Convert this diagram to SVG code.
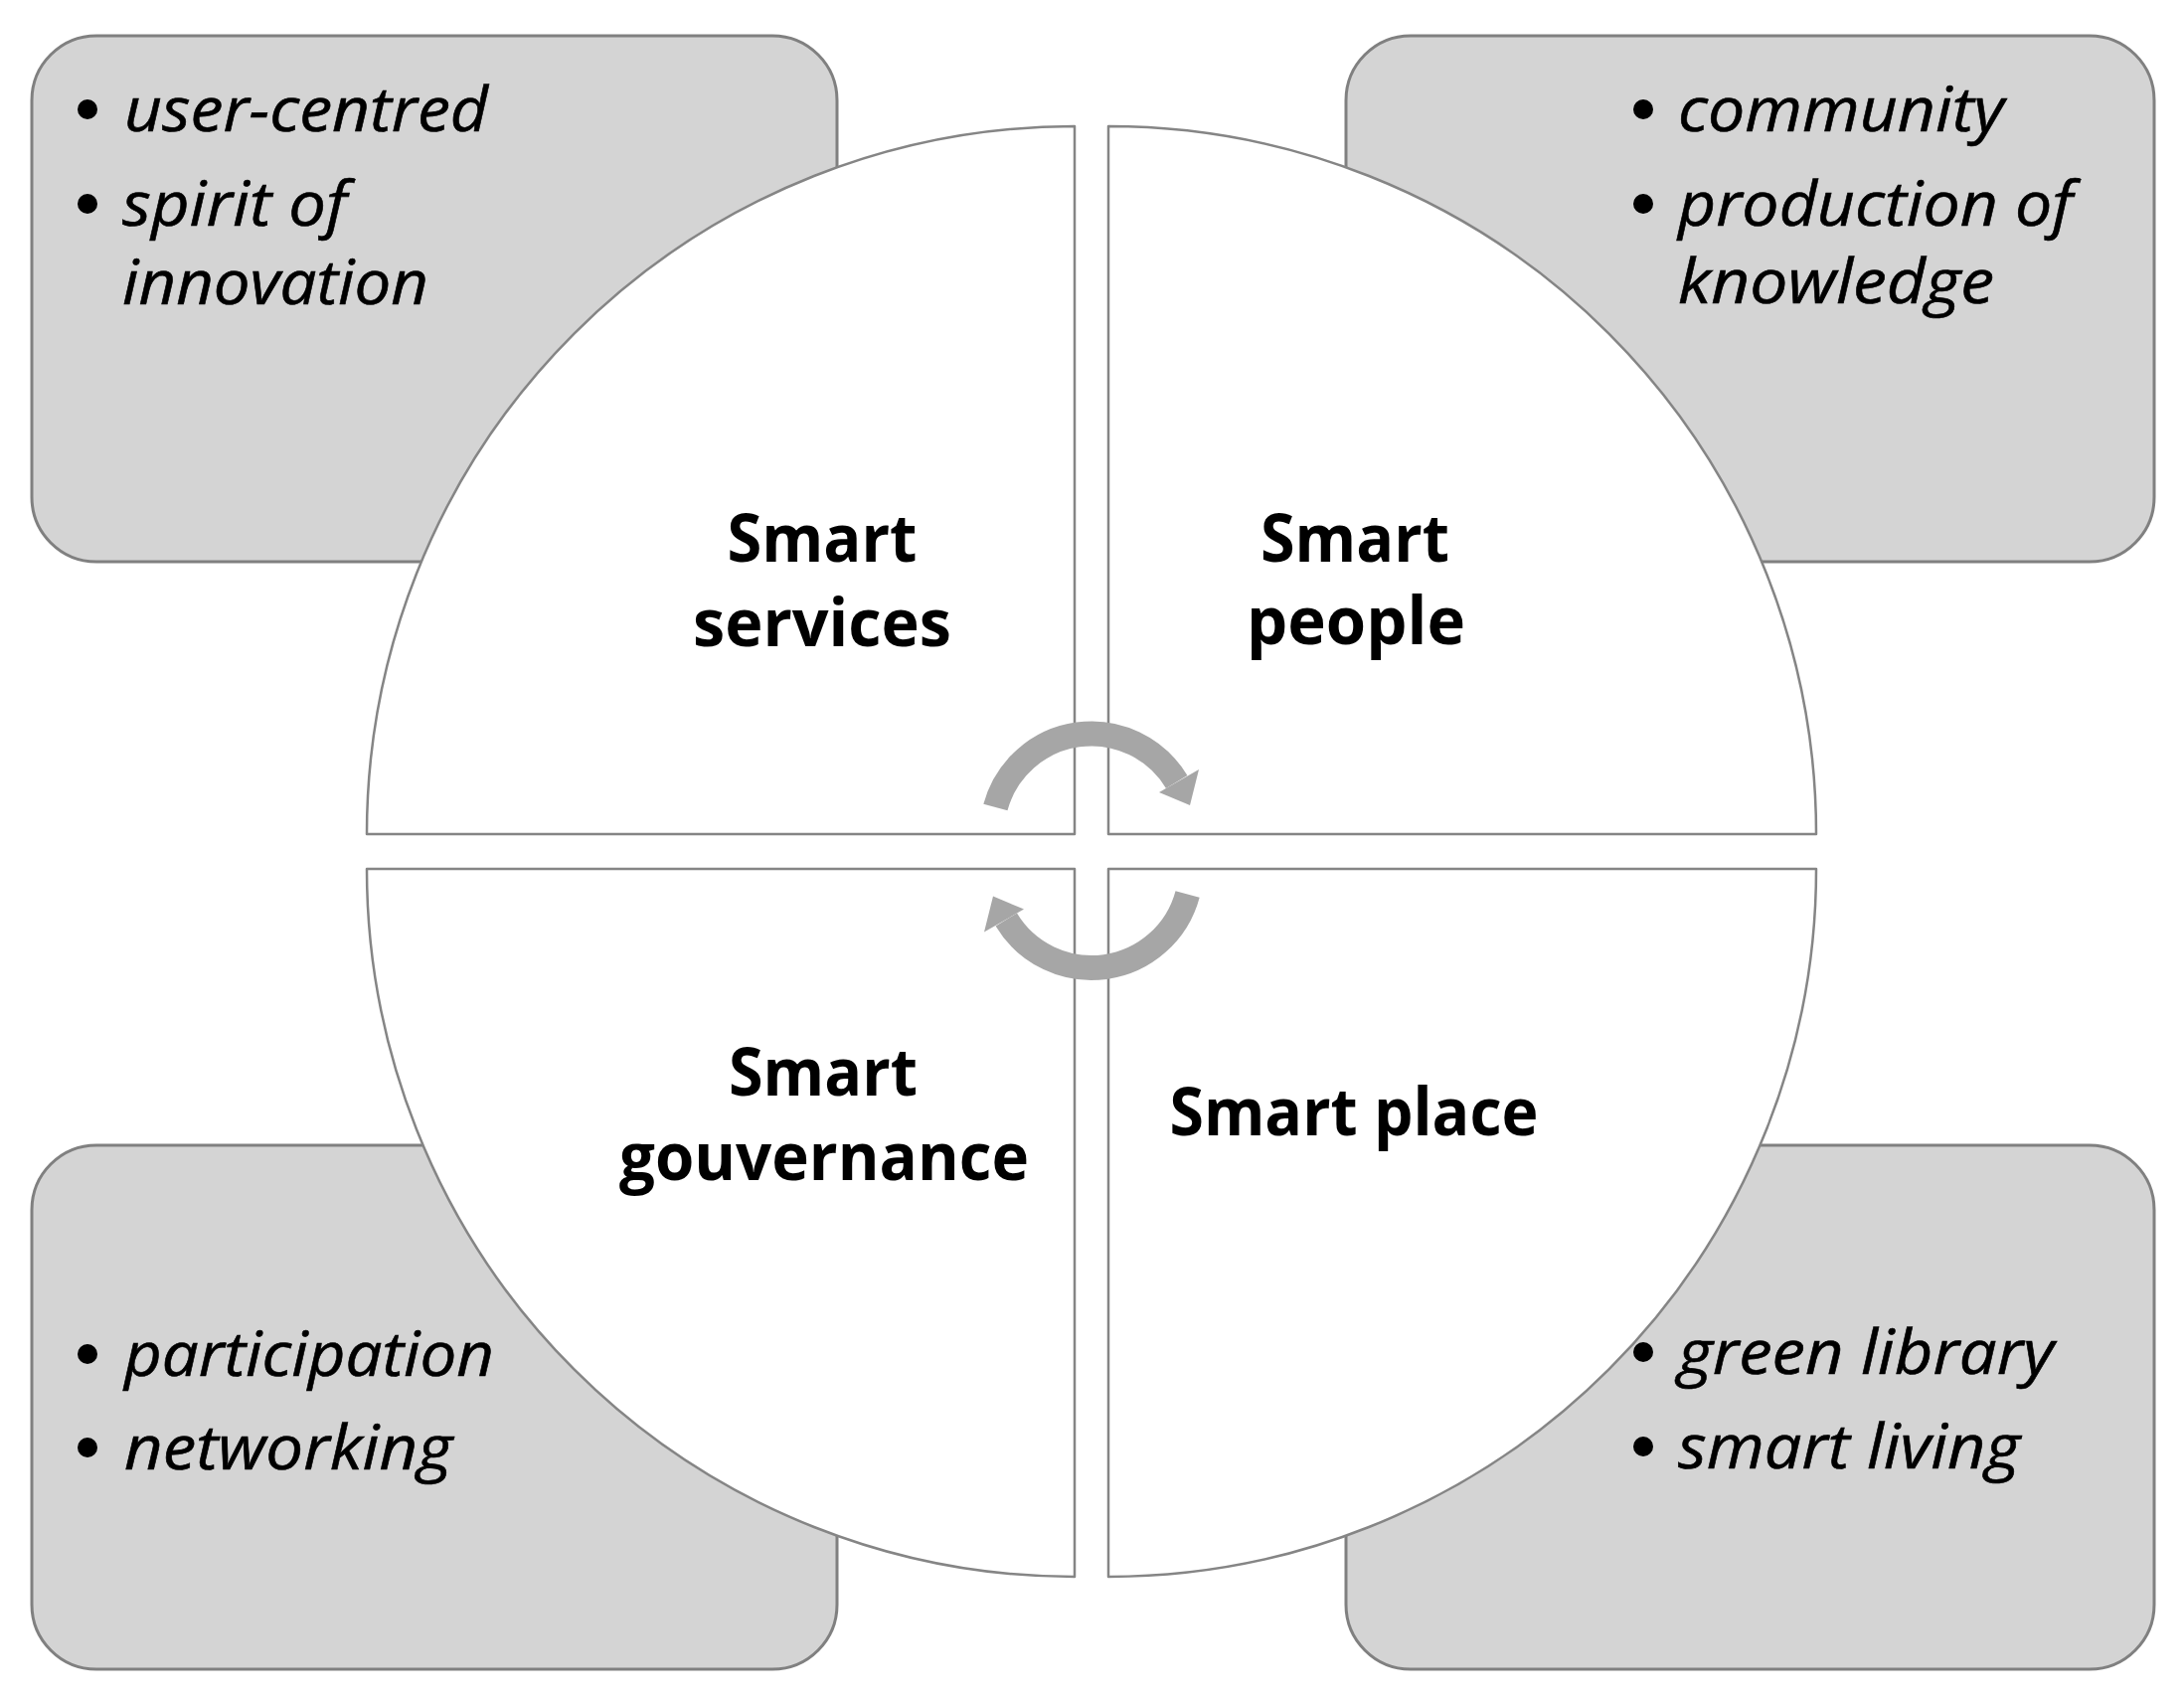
<svg xmlns="http://www.w3.org/2000/svg" width="2197" height="1713" viewBox="0 0 2197 1713">
<defs>
<style>
.box{fill:#d4d4d4;stroke:#808080;stroke-width:3}
.quad{fill:#ffffff;stroke:#858585;stroke-width:2.5;stroke-linejoin:round}
.title{font-family:"Open Sans","Liberation Sans",sans-serif;font-weight:bold;font-size:66px;fill:#000;text-anchor:middle}
.item{font-family:"Open Sans","Liberation Sans",sans-serif;font-style:italic;font-size:62px;fill:#000;stroke:#000;stroke-width:0.6}
.bul{fill:#000}
.arc{fill:none;stroke:#a6a6a6;stroke-width:25}
.head{fill:#a6a6a6}
</style>
</defs>
<rect width="2197" height="1713" fill="#ffffff"/>

<g id="box-tl">
<rect class="box" x="32" y="36" width="810" height="529" rx="65" ry="65"/>
</g>
<g id="box-tr">
<rect class="box" x="1354" y="36" width="813" height="529" rx="65" ry="65"/>
</g>
<g id="box-bl">
<rect class="box" x="32" y="1152" width="810" height="527" rx="65" ry="65"/>
</g>
<g id="box-br">
<rect class="box" x="1354" y="1152" width="813" height="527" rx="65" ry="65"/>
</g>

<g id="smart-services">
<path class="quad" d="M1081,839 L369,839 A712,712 0 0 1 1081,127 Z"/>
<text class="title" x="827" y="565" textLength="191" lengthAdjust="spacingAndGlyphs">Smart</text>
<text class="title" x="827" y="650" textLength="260" lengthAdjust="spacingAndGlyphs">services</text>
</g>
<g id="smart-people">
<path class="quad" d="M1115,839 L1115,127 A712,712 0 0 1 1827,839 Z"/>
<text class="title" x="1363" y="565" textLength="190" lengthAdjust="spacingAndGlyphs">Smart</text>
<text class="title" x="1364" y="648" textLength="220" lengthAdjust="spacingAndGlyphs">people</text>
</g>
<g id="smart-gouvernance">
<path class="quad" d="M1081,874 L1081,1586 A712,712 0 0 1 369,874 Z"/>
<text class="title" x="828" y="1102" textLength="190" lengthAdjust="spacingAndGlyphs">Smart</text>
<text class="title" x="829" y="1187" textLength="412" lengthAdjust="spacingAndGlyphs">gouvernance</text>
</g>
<g id="smart-place">
<path class="quad" d="M1115,874 L1827,874 A712,712 0 0 1 1115,1586 Z"/>
<text class="title" x="1362" y="1142" textLength="371" lengthAdjust="spacingAndGlyphs">Smart place</text>
</g>

<g id="connectors">
<g id="cycle-top">
<path class="arc" d="M1001.4,812.1 A100,100 0 0 1 1183.7,786.5"/>
<polygon class="head" points="1166,797 1206,774 1197,810"/>
</g>
<g id="cycle-bottom" transform="rotate(180 1098 855.75)">
<path class="arc" d="M1001.4,812.1 A100,100 0 0 1 1183.7,786.5"/>
<polygon class="head" points="1166,797 1206,774 1197,810"/>
</g>
</g>

<g id="list-tl">
<circle class="bul" cx="88" cy="110" r="10"/>
<text class="item" x="125" y="132" textLength="366" lengthAdjust="spacingAndGlyphs">user-centred</text>
<circle class="bul" cx="88" cy="205" r="10"/>
<text class="item" x="123" y="227" textLength="226" lengthAdjust="spacingAndGlyphs">spirit of</text>
<text class="item" x="123" y="306" textLength="308" lengthAdjust="spacingAndGlyphs">innovation</text>
</g>
<g id="list-tr">
<circle class="bul" cx="1653" cy="110" r="10"/>
<text class="item" x="1688" y="132" textLength="328" lengthAdjust="spacingAndGlyphs">community</text>
<circle class="bul" cx="1653" cy="205" r="10"/>
<text class="item" x="1688" y="227" textLength="397" lengthAdjust="spacingAndGlyphs">production of</text>
<text class="item" x="1688" y="305" textLength="318" lengthAdjust="spacingAndGlyphs">knowledge</text>
</g>
<g id="list-bl">
<circle class="bul" cx="88" cy="1362" r="10"/>
<text class="item" x="125" y="1384" textLength="372" lengthAdjust="spacingAndGlyphs">participation</text>
<circle class="bul" cx="88" cy="1456" r="10"/>
<text class="item" x="125" y="1478" textLength="330" lengthAdjust="spacingAndGlyphs">networking</text>
</g>
<g id="list-br">
<circle class="bul" cx="1653" cy="1360" r="10"/>
<text class="item" x="1688" y="1382" textLength="378" lengthAdjust="spacingAndGlyphs">green library</text>
<circle class="bul" cx="1653" cy="1455" r="10"/>
<text class="item" x="1688" y="1477" textLength="344" lengthAdjust="spacingAndGlyphs">smart living</text>
</g>
</svg>
